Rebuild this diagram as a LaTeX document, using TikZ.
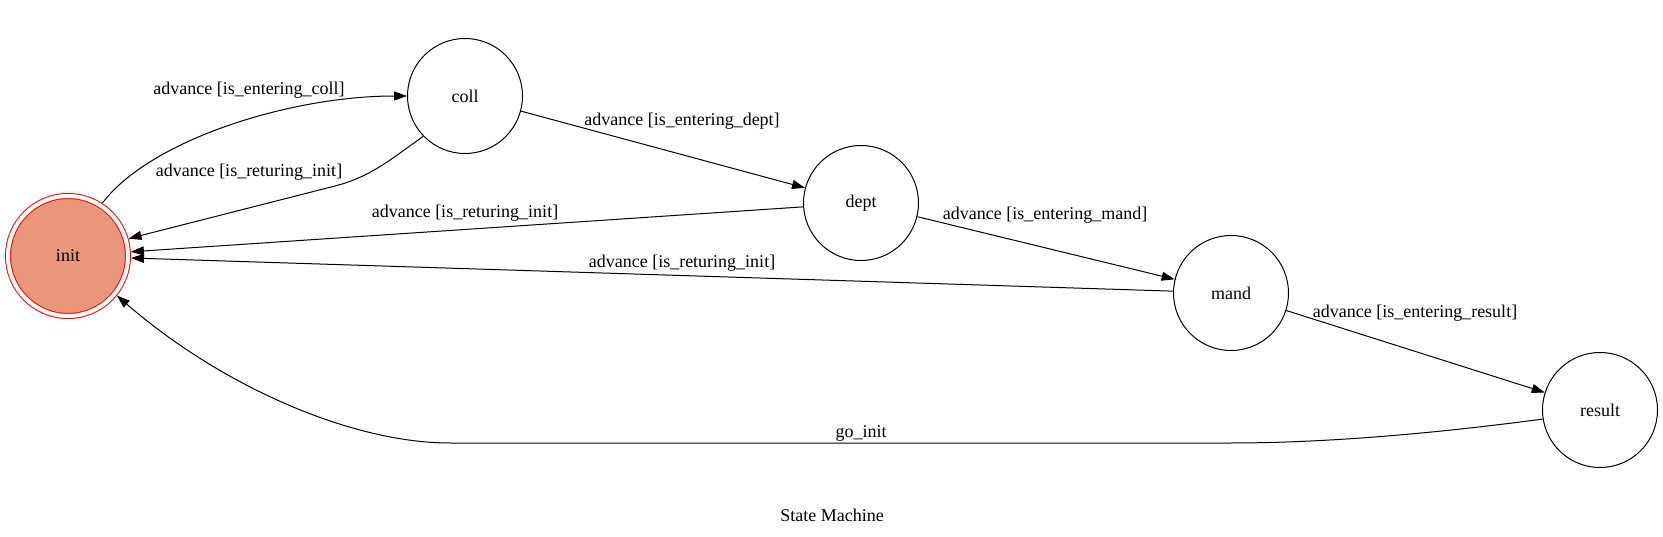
\documentclass[tikz,border=0pt]{standalone}
\usepackage{fontspec}
\setmainfont{Liberation Serif}
\usetikzlibrary{arrows.meta}
\definecolor{darksalmon}{RGB}{233,150,122}
\begin{document}
\begin{tikzpicture}[x=1pt,y=-1pt,font=\fontsize{18}{21}\selectfont,line width=1pt,>={Triangle[length=13pt,width=9pt]}]
    \tikzstyle{state}=[circle,draw,minimum size=115pt,inner sep=0]
    \tikzstyle{start state}=[state,draw=red,fill=darksalmon,double=white,double distance=4pt,minimum size=120pt,outer sep=3pt]
    \tikzstyle{trans}=[->,draw]
    \tikzstyle{trans label}=[inner sep=1pt]
    \useasboundingbox (0,0) rectangle (1663,537);

    \node(init)[start state] at (68,256){init};
    \node(coll)[state] at (465,96){coll};
    \node(dept)[state] at (861,203){dept};
    \node(mand)[state] at (1231,293){mand};
    \node(result)[state] at (1600,410){result};

    \draw[trans](init.57) .. controls (150,140) and (290,96) .. (coll.west);
    \draw[trans](coll.224) .. controls (390,160) and (370,177) .. (335,186) -- (init.16);
    \draw[trans](coll)--(dept);
    \draw[trans](dept)--(init);
    \draw[trans](dept)--(mand);
    \draw[trans](mand)--(init);
    \draw[trans](mand)--(result);
    \draw[trans](result.189) .. controls (1400,438) and (1300,443) .. (1230,443) -- (450,443) .. controls (350,443) and (220,385) .. (init.321);

    \node(l1)[trans label] at (249,90){advance [is\_entering\_coll]};
    \node(l2)[trans label] at (249,172){advance [is\_returing\_init]};
    \node(l3)[trans label] at (682,121){advance [is\_entering\_dept]};
    \node(l4)[trans label] at (465,213){advance [is\_returing\_init]};
    \node(l5)[trans label] at (1045,215){advance [is\_entering\_mand]};
    \node(l6)[trans label] at (682,263){advance [is\_returing\_init]};
    \node(l7)[trans label] at (1415,313){advance [is\_entering\_result]};
    \node(l8)[trans label] at (861,433){go\_init};
    \node(title) at (832,515){State Machine};
\end{tikzpicture}
\end{document}
